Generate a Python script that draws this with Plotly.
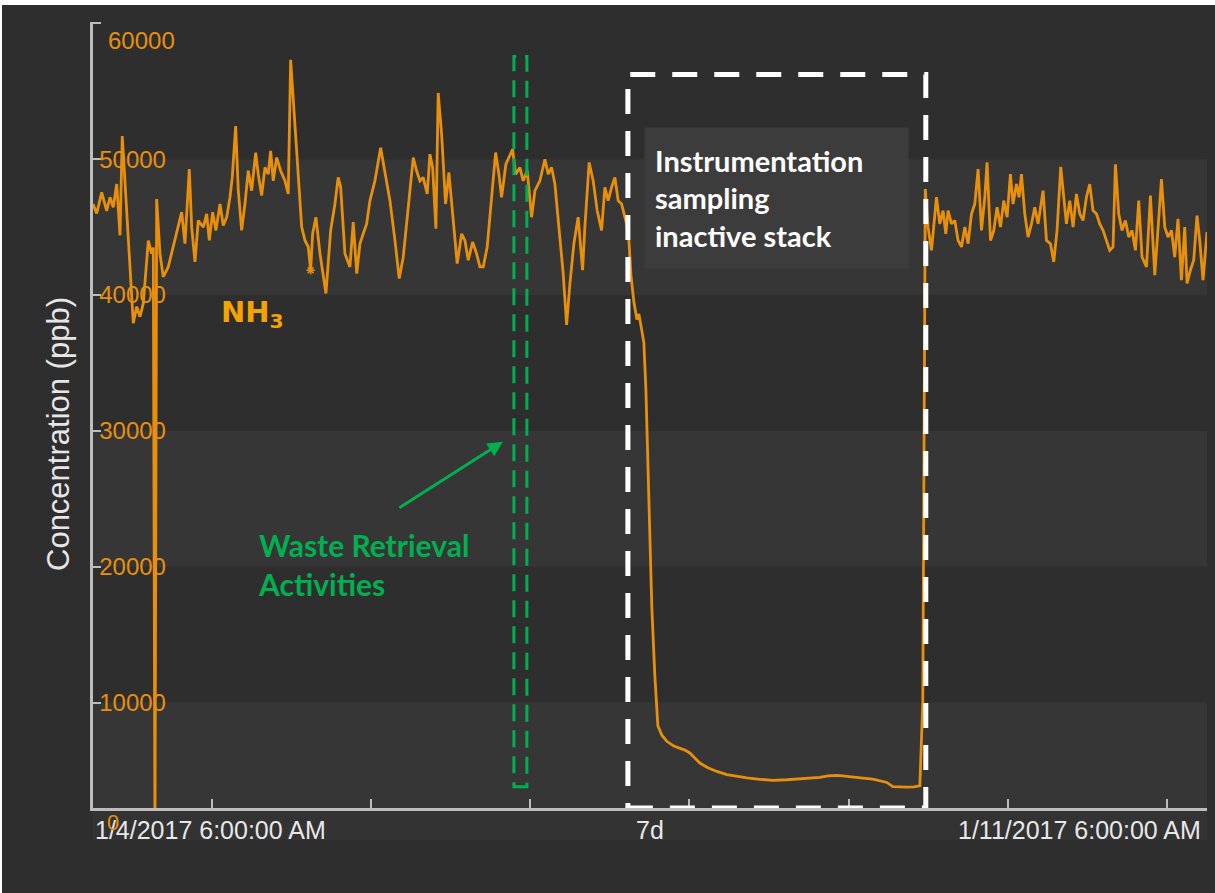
import pandas as pd
import plotly.graph_objects as go

# ---------------- data ----------------
REF_TIME = "2017-01-04 06:00:00"
# hours relative to 1/4/2017 6:00 AM
hours = [
    -20.93, -20.28, -19.40, -18.52, -17.94, -17.36, -16.76, -16.18, -15.78, -15.30,
    -13.84, -13.24, -12.66, -12.08, -11.20, -10.61, -10.32, -10.03, -9.73, -9.15,
    -8.57, -7.69, -6.81, -5.93, -5.33, -4.75, -3.99, -3.57, -2.99, -2.41,
    -1.53, -0.93, -0.47, 0.12, 0.70, 1.41, 1.99, 2.59, 3.17, 3.57,
    4.17, 4.63, 5.22, 5.80, 6.38, 6.98, 7.69, 8.14, 8.74, 9.32,
    9.90, 10.32, 10.78, 11.38, 12.08, 12.84, 13.42, 13.84, 14.42, 15.18,
    15.78, 16.36, 16.94, 17.36, 17.71, 18.29, 19.00, 20.05, 20.88, 21.63,
    22.21, 22.64, 23.39, 24.27, 24.85, 25.47, 26.03, 26.61, 27.21, 27.79,
    28.67, 29.67, 30.43, 31.31, 32.19, 32.94, 33.65, 34.53, 35.41, 36.00,
    36.58, 37.16, 37.87, 38.34, 38.82, 39.40, 39.80, 40.40, 41.10, 41.68,
    42.44, 43.14, 43.92, 44.50, 45.08, 45.85, 46.55, 47.14, 47.72, 48.42,
    49.20, 49.90, 50.48, 50.95, 51.71, 52.29, 52.89, 53.42, 54.17, 54.75,
    55.46, 56.23, 56.81, 57.69, 58.57, 59.15, 59.75, 60.33, 61.08, 61.79,
    62.39, 62.97, 63.67, 64.42, 65.20, 65.60, 66.36, 67.06, 67.77, 68.54,
    69.12, 69.70, 70.30, 70.88, 71.46, 72.06, 72.94, 73.35, 73.70, 74.22,
    74.75, 75.10, 75.45, 75.98, 76.34, 76.69, 77.03, 77.38, 77.91, 78.44,
    79.15, 80.02, 81.26, 82.31, 83.19, 84.07, 84.95, 85.83, 87.24, 88.82,
    90.58, 92.34, 94.10, 96.38, 98.67, 101.13, 103.42, 105.18, 106.94, 108.35,
    109.93, 111.34, 112.75, 114.50, 116.26, 117.49, 118.72, 119.78, 121.01, 122.24,
    123.47, 124.53, 125.05, 125.23, 125.49, 125.98, 126.58, 127.46, 128.04, 128.62,
    129.10, 129.50, 130.10, 130.68, 131.26, 131.86, 132.44, 133.02, 133.62, 134.20,
    134.78, 135.38, 135.96, 136.36, 136.96, 137.54, 138.12, 138.72, 139.30, 139.88,
    140.47, 140.93, 141.53, 141.99, 142.41, 142.99, 143.57, 144.17, 144.75, 145.33,
    146.21, 146.81, 147.51, 148.09, 148.67, 149.32, 149.90, 150.32, 150.90, 151.49,
    152.08, 152.66, 153.24, 153.84, 154.42, 155.00, 155.60, 156.18, 156.76, 157.36,
    157.94, 158.52, 158.94, 159.52, 160.10, 160.70, 161.28, 161.86, 162.46, 163.04,
    163.62, 164.40, 165.10, 165.86, 166.44, 167.04, 167.62, 168.20, 168.80, 169.37,
    169.95, 170.55, 171.13, 171.54, 172.13, 172.71, 173.29, 173.77, 174.35, 175.05,
]
nh3_ppb = [
    46700, 46000, 47560, 46200, 47200, 46460, 48170, 44390, 51700, 48400,
    37930, 39150, 38400, 39400, 44000, 43050, 43500, 0, 47070, 43050,
    41340, 42070, 43540, 45000, 46100, 43780, 49270, 45000, 42440, 45490,
    45000, 45980, 44020, 46100, 44760, 46700, 45120, 45730, 47200, 48660,
    52440, 47680, 44760, 46700, 49150, 47680, 50490, 48900, 47320, 49390,
    48900, 50610, 48410, 50120, 49150, 48410, 47440, 57320, 53780, 48900,
    45000, 44020, 43540, 41830, 44510, 45730, 43050, 40120, 44760, 46700,
    48660, 47930, 43050, 42070, 45370, 41580, 43780, 44510, 45240, 46950,
    48410, 50850, 48900, 46950, 44020, 41220, 42800, 46460, 50120, 49150,
    48410, 48660, 47440, 50370, 49390, 44880, 54880, 51830, 46700, 49020,
    45490, 42320, 44510, 44020, 42560, 43900, 43050, 42070, 42070, 43540,
    47200, 50490, 48900, 47200, 49630, 50120, 50730, 48900, 49390, 48410,
    49150, 45730, 47680, 48410, 50000, 48900, 49390, 48170, 45000, 41580,
    37800, 40850, 43780, 45730, 41830, 45000, 49760, 48410, 46220, 44760,
    47930, 46950, 47930, 48660, 46950, 46700, 45240, 44000, 41500, 39500,
    38200, 38600, 37800, 36500, 33000, 28000, 22000, 17000, 12000, 8300,
    7600, 7150, 6800, 6650, 6500, 6290, 5900, 5550, 5200, 4930,
    4700, 4550, 4450, 4350, 4270, 4320, 4370, 4420, 4500, 4600,
    4640, 4580, 4500, 4440, 4370, 4250, 4120, 3820, 3780, 3780,
    3800, 3870, 10000, 30000, 47800, 45000, 43290, 47200, 45240, 46220,
    44510, 46220, 45240, 45490, 44020, 43540, 45000, 43780, 45980, 46700,
    49270, 44760, 47200, 49760, 44020, 44760, 46460, 45000, 46950, 45730,
    48900, 46700, 48170, 47200, 48900, 45980, 44270, 45240, 46460, 45240,
    47680, 44020, 43780, 42440, 44760, 49440, 46700, 45240, 46950, 45000,
    47440, 45980, 45490, 47200, 48170, 46220, 45980, 45240, 44760, 44020,
    43290, 43540, 49630, 45980, 44760, 45490, 44270, 44760, 43290, 46950,
    42800, 42070, 47320, 41460, 44760, 48540, 45000, 44270, 44760, 42800,
    45610, 41090, 45000, 40850, 41830, 42560, 45850, 44020, 41090, 44640,
]
flagged_index = [63]  # point drawn with a star marker

y_ticks = [10000, 20000, 30000, 40000, 50000, 60000]
x_tick_hours = [0, 28, 56, 84, 112, 140, 168]
x_range_hours = [-20.93, 175.05]
y_range = [2240, 60100]
first_label = "1/4/2017 6:00:00 AM"
last_label = "1/11/2017 6:00:00 AM"
span_label = "7d"

# ---------------- figure ----------------
ref = pd.Timestamp(REF_TIME)
to_time = lambda h: ref + pd.to_timedelta(h, unit="h")
times = [to_time(h) for h in hours]

W, H = 1215, 893
ML, MR, MT, MB = 93, 8, 22, 85
PW, PH = W - ML - MR, H - MT - MB

def px(x):
    return (x - ML) / PW

def py(y):
    return (H - MB - y) / PH

ORANGE = "#e8900c"
GREEN = "#00b050"
AXIS = "#bdbdbd"
BG = "#2e2e2e"
BAND = "#363636"

fig = go.Figure()
fig.add_trace(go.Scatter(
    x=times, y=nh3_ppb, mode="lines",
    line=dict(color=ORANGE, width=2.8),
    showlegend=False, hoverinfo="skip",
))
fig.add_trace(go.Scatter(
    x=[times[i] for i in flagged_index], y=[nh3_ppb[i] for i in flagged_index],
    mode="markers", marker=dict(symbol="asterisk-open", size=7, color=ORANGE, line=dict(color=ORANGE, width=1.5)),
    showlegend=False, hoverinfo="skip",
))

shapes = []
# alternating bands
for lo, hi in [(y_range[0], 10000), (20000, 30000), (40000, 50000)]:
    shapes.append(dict(type="rect", xref="paper", yref="y", x0=0, x1=1, y0=lo, y1=hi,
                       fillcolor=BAND, line=dict(width=0), layer="below"))
# strip under axis labels
shapes.append(dict(type="rect", xref="paper", yref="paper", x0=0, x1=1, y0=py(840), y1=py(808),
                   fillcolor="#333333", line=dict(width=0), layer="below"))
# white image border
shapes.append(dict(type="rect", xref="paper", yref="paper", x0=px(0), x1=px(W), y0=py(5), y1=py(0),
                   fillcolor="white", line=dict(width=0), layer="above"))
shapes.append(dict(type="rect", xref="paper", yref="paper", x0=px(0), x1=px(2), y0=py(H), y1=py(0),
                   fillcolor="white", line=dict(width=0), layer="above"))
# green dashed box (waste retrieval)
shapes.append(dict(type="rect", xref="x", yref="y", x0=to_time(53.12), x1=to_time(55.40), y0=3800, y1=57560,
                   line=dict(color=GREEN, width=3, dash="17px,9px"), layer="above"))
# white dashed box (inactive stack)
shapes.append(dict(type="rect", xref="x", yref="y", x0=to_time(73.17), x1=to_time(125.58), y0=y_range[0], y1=56240,
                   line=dict(color="white", width=5, dash="25px,17px"), layer="above"))
fig.update_layout(shapes=shapes)

LBL_FONT = "Liberation Sans, Arial, sans-serif"
BOLD_FONT = "Lato, Open Sans, sans-serif"
ann = []
ann.append(dict(text=first_label, xref="paper", yref="paper", x=px(93), y=py(830), xanchor="left",
                yanchor="middle", showarrow=False, font=dict(family=LBL_FONT, size=25, color="#e8e8e8")))
ann.append(dict(text=last_label, xref="paper", yref="paper", x=px(1203), y=py(830), xanchor="right",
                yanchor="middle", showarrow=False, font=dict(family=LBL_FONT, size=25, color="#e8e8e8")))
ann.append(dict(text=span_label, xref="paper", yref="paper", x=px(650), y=py(830), xanchor="center",
                yanchor="middle", showarrow=False, font=dict(family=LBL_FONT, size=25, color="#e8e8e8")))
ann.append(dict(text="0", xref="paper", yref="paper", x=px(113), y=py(822), xanchor="center",
                yanchor="middle", showarrow=False, font=dict(family=LBL_FONT, size=22, color=ORANGE)))
# top tick label sits just below the axis top in the reference
ann.append(dict(text=f"{y_ticks[-1]:d}", xref="paper", yref="paper", x=px(106), y=py(40), xanchor="left",
                yanchor="middle", showarrow=False, font=dict(family=LBL_FONT, size=24, color=ORANGE)))
ann.append(dict(text="Concentration (ppb)", xref="paper", yref="paper", x=px(58), y=py(434), textangle=-90,
                xanchor="center", yanchor="middle", showarrow=False,
                font=dict(family=LBL_FONT, size=31, color="#e6e6e6")))
ann.append(dict(text="<b>NH<sub>3</sub></b>", xref="paper", yref="paper", x=px(252), y=py(314),
                xanchor="center", yanchor="middle", showarrow=False,
                font=dict(family="DejaVu Sans, sans-serif", size=29, color="#f5a300")))
ann.append(dict(text="<b>Waste Retrieval<br>Activities</b>", xref="paper", yref="paper", x=px(256), y=py(564),
                xanchor="left", yanchor="middle", align="left", showarrow=False,
                font=dict(family=BOLD_FONT, size=30, color=GREEN)))
ann.append(dict(text="", xref="x", yref="y", x=to_time(51.18), y=29200, ax=-105, ay=67,
                showarrow=True, arrowhead=2, arrowsize=1, arrowwidth=3, arrowcolor=GREEN))
ann.append(dict(text="<b>Instrumentation<br>sampling<br>inactive stack</b>", xref="paper", yref="paper",
                x=px(644), y=py(127), xanchor="left", yanchor="top", align="left", valign="middle",
                width=243, height=120, borderpad=10, bgcolor="#3c3c3c", showarrow=False,
                font=dict(family=BOLD_FONT, size=29, color="white")))
fig.update_layout(annotations=ann)

fig.update_xaxes(
    type="date", range=[to_time(x_range_hours[0]), to_time(x_range_hours[1])],
    tickvals=[to_time(h) for h in x_tick_hours], ticktext=[""] * len(x_tick_hours),
    ticks="inside", ticklen=9, tickwidth=2, tickcolor=AXIS,
    showline=True, linecolor=AXIS, linewidth=3, showgrid=False, zeroline=False,
)
fig.update_yaxes(
    range=y_range, tickvals=y_ticks,
    ticktext=[f"{v:d}" for v in y_ticks[:-1]] + [""],
    ticks="inside", ticklen=8, tickwidth=2, tickcolor=AXIS,
    ticklabelposition="inside", ticklabeloverflow="allow",
    tickfont=dict(family=LBL_FONT, size=24, color=ORANGE),
    showline=True, linecolor=AXIS, linewidth=3, showgrid=False, zeroline=False,
)
fig.update_layout(
    width=W, height=H, margin=dict(l=ML, r=MR, t=MT, b=MB),
    paper_bgcolor=BG, plot_bgcolor=BG,
)
fig.write_html("out.html", config={"displayModeBar": False},
               post_script="document.body.style.margin='0px';")
